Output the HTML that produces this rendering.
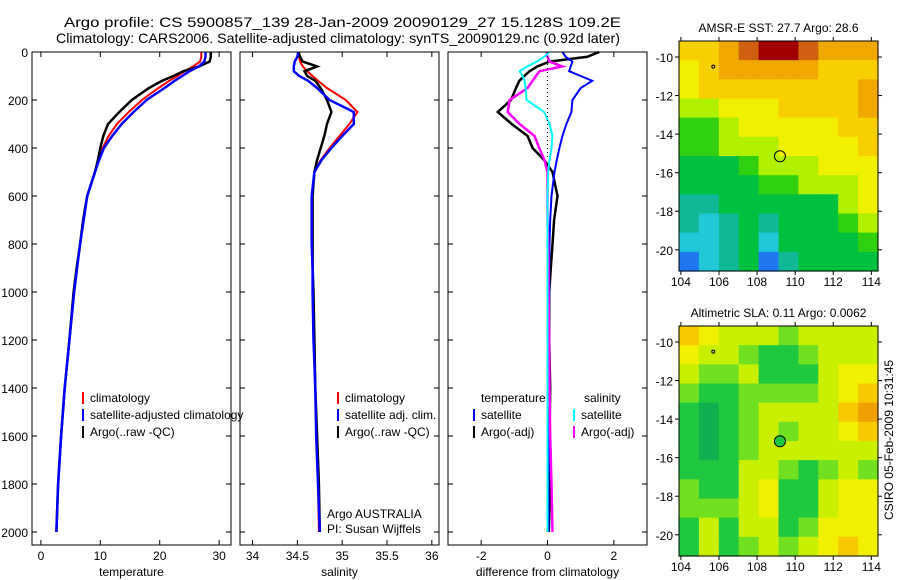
<!DOCTYPE html>
<html><head><meta charset="utf-8">
<style>
html,body{margin:0;padding:0;background:#fff;}
svg{display:block;font-family:"Liberation Sans",sans-serif;}
</style></head>
<body>
<svg id="fig" width="900" height="580" viewBox="0 0 900 580">
<text x="64" y="27" font-size="14" textLength="557" lengthAdjust="spacingAndGlyphs">Argo profile: CS 5900857_139 28-Jan-2009 20090129_27 15.128S 109.2E</text>
<text x="56" y="43" font-size="14" textLength="564" lengthAdjust="spacingAndGlyphs">Climatology: CARS2006. Satellite-adjusted climatology: synTS_20090129.nc (0.92d later)</text>
</svg>
<script>
// ---- profile data ----
const depths = [0,20,40,60,80,100,120,150,200,250,300,350,400,450,500,600,700,800,900,1000,1200,1400,1600,1800,2000];
const tempClim = [27.0,27.0,26.8,25.6,24.2,23.0,21.6,19.8,17.0,14.8,12.8,11.4,10.4,9.7,9.1,7.8,7.2,6.6,6.1,5.6,4.8,4.0,3.4,2.9,2.6];
const tempSat  = [27.7,27.7,27.5,26.6,25.0,23.8,22.5,20.8,17.8,15.6,13.6,12.0,10.6,9.8,9.1,7.8,7.2,6.6,6.1,5.6,4.8,4.0,3.4,2.9,2.6];
const tempArgo = [28.6,28.6,28.4,26.6,24.0,22.3,20.4,18.2,15.3,13.2,11.3,10.5,10.0,9.6,9.1,7.8,7.1,6.6,6.0,5.5,4.8,4.0,3.4,2.9,2.6];
const salClim = [34.52,34.52,34.53,34.56,34.61,34.67,34.73,34.83,35.04,35.17,35.08,34.97,34.86,34.76,34.69,34.66,34.66,34.66,34.67,34.67,34.68,34.70,34.71,34.73,34.74];
const salSat  = [34.51,34.50,34.47,34.46,34.46,34.52,34.62,34.72,34.86,35.13,35.13,35.00,34.88,34.77,34.69,34.66,34.66,34.66,34.67,34.67,34.68,34.70,34.71,34.73,34.75];
const salArgo = [34.51,34.53,34.56,34.72,34.58,34.61,34.70,34.76,34.83,34.88,34.83,34.80,34.76,34.72,34.69,34.67,34.67,34.67,34.67,34.68,34.69,34.70,34.72,34.74,34.75];
const dTempSat  = [0.45,0.55,0.75,0.70,0.65,1.0,1.35,1.0,0.75,0.72,0.57,0.45,0.36,0.28,0.21,0.12,0.08,0.06,0.05,0.05,0.04,0.04,0.03,0.03,0.03];
const dTempArgo = [1.56,1.2,0.06,-0.3,-0.54,-0.7,-0.85,-0.95,-1.1,-1.5,-1.08,-0.6,-0.45,-0.1,0.15,0.3,0.2,0.15,0.1,0.05,0.05,0.08,0.06,0.08,0.04];
const dSalSat   = [0.06,-0.1,-0.33,-0.6,-0.84,-0.75,-0.69,-0.66,-0.63,-0.1,0.06,0.15,0.12,0.06,0.02,0.0,0.0,0.0,0.0,0.0,0.0,0.0,0.0,0.0,0.0];
const dSalArgo  = [-0.03,0.0,0.06,0.45,-0.24,-0.35,-0.45,-0.6,-1.14,-1.2,-0.84,-0.39,-0.25,-0.09,0.0,0.0,0.0,0.02,0.03,0.03,0.05,0.06,0.08,0.12,0.15];
const depthTicks = [0,200,400,600,800,1000,1200,1400,1600,1800,2000];
const tempTicks = [0,10,20,30];
const salTicks = [34,34.5,35,35.5,36];
const salTickLabels = ["34","34.5","35","35.5","36"];
const diffTicks = [-2,0,2];
// ---- map data (colour class per ~1deg cell, rows north->south) ----
const mapLons = [104,106,108,110,112,114];
const mapLats = [-10,-12,-14,-16,-18,-20];
const sstGrid = [
[7,7,8,9,10,10,9,8,8,8],
[6,7,8,8,8,8,8,7,7,7],
[6,7,7,7,7,7,7,7,7,8],
[5,5,6,6,6,7,7,7,7,8],
[4,4,5,6,6,6,6,6,7,7],
[4,4,5,5,5,6,6,6,6,7],
[3,3,3,4,5,5,5,6,6,6],
[3,3,3,3,4,4,5,5,5,6],
[2,2,3,3,3,3,3,3,5,6],
[2,1,2,3,2,3,3,3,4,5],
[1,1,2,3,1,3,3,3,3,4],
[0,1,2,3,0,2,3,3,3,3]];
const slaGrid = [
[5,4,3,3,3,2,3,3,3,3],
[4,3,3,2,1,1,2,3,3,3],
[3,2,2,3,1,1,1,3,4,4],
[2,1,1,2,2,2,2,3,4,5],
[1,0,1,2,3,3,3,3,5,6],
[1,0,1,2,3,2,3,3,4,5],
[1,0,1,2,3,3,3,3,3,3],
[1,1,1,3,3,2,1,2,3,2],
[2,1,1,3,4,1,1,3,4,4],
[2,2,2,3,4,1,1,3,4,4],
[1,3,1,3,3,1,2,4,4,4],
[1,3,1,2,3,2,3,4,5,4]];
const argoLon = 109.2, argoLat = -15.15;

const NS='http://www.w3.org/2000/svg';
const svg=document.getElementById('fig');
function mk(tag,attrs,parent){const e=document.createElementNS(NS,tag);for(const k in attrs)e.setAttribute(k,attrs[k]);(parent||svg).appendChild(e);return e;}
function txt(x,y,s,size,anchor,parent){const t=mk('text',{x:x,y:y,'font-size':size||12,'text-anchor':anchor||'start'},parent);t.textContent=s;return t;}

const top0=52, bot=545;
const yD=d=>top0+d*0.24;

function panel(name,x0,x1,vmin,vmax,ticks,labels,xlabel,series,showY){
  const g=mk('g',{});
  
  
  const xs=v=>x0+(v-vmin)/(vmax-vmin)*(x1-x0);
  ticks.forEach((t,i)=>{
    const x=xs(t);
    mk('line',{x1:x,x2:x,y1:top0,y2:top0+5,stroke:'#000'},g);
    mk('line',{x1:x,x2:x,y1:bot,y2:bot-5,stroke:'#000'},g);
    const l=txt(x,bot+15,labels[i],12,'middle',g);
    
    
  });
  depthTicks.forEach(d=>{
    const y=yD(d);
    mk('line',{x1:x0,x2:x0+5,y1:y,y2:y,stroke:'#000'},g);
    mk('line',{x1:x1,x2:x1-5,y1:y,y2:y,stroke:'#000'},g);
    if(showY){const l=txt(x0-4,y+5,String(d),12,'end',g);
      
      }
  });
  series.forEach(s=>{
    const pts=depths.map((d,i)=>xs(s.v[i]).toFixed(1)+','+yD(d).toFixed(1)).join(' ');
    const p=mk('polyline',{points:pts,fill:'none',stroke:s.c,'stroke-width':s.w||2},g);
    if(s.dash)p.setAttribute('stroke-dasharray',s.dash);
    
    
  });
  const r=mk('rect',{x:x0,y:top0,width:x1-x0,height:bot-top0,fill:'none',stroke:'#000','stroke-width':1},g);
  
  
  const xl=txt((x0+x1)/2,bot+31,xlabel,12,'middle',g);
  
  
  return {g,xs};
}

panel('temperature-panel',32,231,-1.5,32,tempTicks,tempTicks.map(String),'temperature',[
 {v:tempClim,c:'#ff0000',n:'temp-climatology-line'},
 {v:tempArgo,c:'#000000',n:'temp-argo-line',w:2.5},
 {v:tempSat,c:'#0000ff',n:'temp-satellite-line',w:2.5}],true);
panel('salinity-panel',240,439,33.86,36.08,salTicks,salTickLabels,'salinity',[
 {v:salClim,c:'#ff0000',n:'sal-climatology-line'},
 {v:salArgo,c:'#000000',n:'sal-argo-line',w:2.5},
 {v:salSat,c:'#0000ff',n:'sal-satellite-line',w:2.5}],false);
const p3=panel('difference-panel',448,647,-3,3,diffTicks,diffTicks.map(String),'difference from climatology',[
 {v:dTempArgo,c:'#000000',n:'dtemp-argo-line',w:2.5},
 {v:dTempSat,c:'#0000ff',n:'dtemp-satellite-line'},
 {v:dSalArgo,c:'#ff00ff',n:'dsal-argo-line',w:2.5},
 {v:dSalSat,c:'#00ffff',n:'dsal-satellite-line'}],false);
const zl=mk('line',{x1:p3.xs(0),x2:p3.xs(0),y1:top0,y2:yD(450),stroke:'#000','stroke-dasharray':'1,3'});



function legend(x,y,color,label,nm){
  const g=mk('g',{});
  
  
  mk('rect',{x:x,y:y-10,width:2,height:12,fill:color},g);
  txt(x+8,y,label,12,'start',g);
}
legend(82,402,'#ff0000','climatology','legend-entry-climatology');
legend(82,419,'#0000ff','satellite-adjusted climatology','legend-entry-satellite');
legend(82,436,'#000000','Argo(..raw -QC)','legend-entry-argo');
legend(337,402,'#ff0000','climatology','legend-entry-sal-climatology');
legend(337,419,'#0000ff','satellite adj. clim.','legend-entry-sal-satellite');
legend(337,436,'#000000','Argo(..raw -QC)','legend-entry-sal-argo');
let t=txt(481,402,'temperature',12);
t=txt(584,402,'salinity',12);
legend(473,419,'#0000ff','satellite','legend-entry-dtemp-satellite');
legend(473,436,'#000000','Argo(-adj)','legend-entry-dtemp-argo');
legend(573,419,'#00ffff','satellite','legend-entry-dsal-satellite');
legend(573,436,'#ff00ff','Argo(-adj)','legend-entry-dsal-argo');
t=txt(327,518,'Argo AUSTRALIA',12);
t=txt(327,533,'PI: Susan Wijffels',12);

// ---- maps ----
const sstColors=['#1e78f0','#20c8d8','#10b898','#00c040','#30d010','#b0f000','#f0f000','#f8d000','#f0a800','#d06010','#a00000'];
const slaColors=['#10b050','#20c840','#70e020','#c8f000','#f0f000','#f8c800','#f0a000'];
function map(name,title,y0,y1,grid,colors,dotFill){
  const x0=679,x1=878,lonMin=103.9,lonMax=114.35;
  const latTop=-9.17,latBot=latTop-11.93;
  const xs=v=>x0+(v-lonMin)/(lonMax-lonMin)*(x1-x0);
  const ys=v=>y0+(latTop-v)/(latTop-latBot)*(y1-y0);
  const g=mk('g',{});
  
  
  const rows=grid.length, cols=grid[0].length;
  const cw=(x1-x0)/cols, ch=(y1-y0)/rows;
  grid.forEach((row,r)=>row.forEach((v,c)=>{
    const cell=mk('rect',{x:(x0+c*cw).toFixed(2),y:(y0+r*ch).toFixed(2),width:(cw+0.6).toFixed(2),height:(ch+0.6).toFixed(2),fill:colors[v]},g);
    
    
  }));
  mk('rect',{x:x0,y:y0,width:x1-x0,height:y1-y0,fill:'none',stroke:'#000'},g);
  mapLons.forEach(l=>{const x=xs(l);
    mk('line',{x1:x,x2:x,y1:y0,y2:y0-4,stroke:'#000'},g);
    mk('line',{x1:x,x2:x,y1:y1,y2:y1+4,stroke:'#000'},g);
    txt(x,y1+15,String(l),12,'middle',g);});
  mapLats.forEach(l=>{const y=ys(l);
    mk('line',{x1:x0,x2:x0-4,y1:y,y2:y,stroke:'#000'},g);
    mk('line',{x1:x1,x2:x1+4,y1:y,y2:y,stroke:'#000'},g);
    txt(x0-6,y+5,String(l),12,'end',g);});
  txt((x0+x1)/2,y0-9,title,12,'middle',g);
  const c=mk('circle',{cx:xs(argoLon),cy:ys(argoLat),r:5.5,fill:dotFill,stroke:'#000'},g);
  
  
  mk('circle',{cx:xs(105.7),cy:ys(-10.5),r:1.5,fill:'none',stroke:'#000'},g);
}
map('sst-map','AMSR-E SST: 27.7 Argo: 28.6',41,271,sstGrid,sstColors,'none');
map('sla-map','Altimetric SLA: 0.11 Argo: 0.0062',326,556,slaGrid,slaColors,'#20c840');
t=txt(0,0,'CSIRO 05-Feb-2009 10:31:45',12,'middle');
t.setAttribute('transform','translate(893,440) rotate(-90)');


</script>
</body></html>
